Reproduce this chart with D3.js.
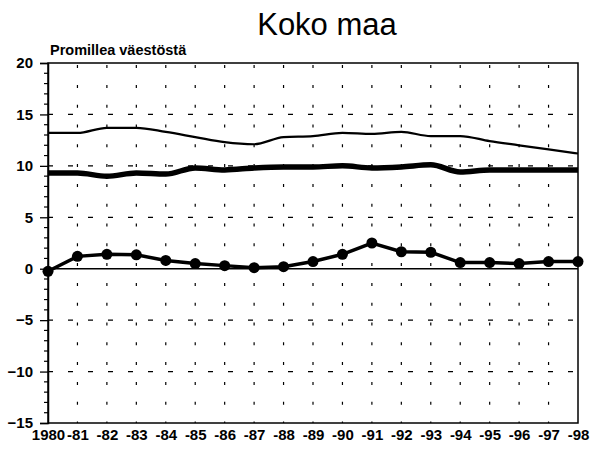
<!DOCTYPE html>
<html><head><meta charset="utf-8">
<script src="https://cdn.jsdelivr.net/npm/d3@7"></script>
<style>body{margin:0;background:#fff}svg{display:block}</style>
</head><body>
<svg id="c" width="592" height="450"></svg>
<script>
const years = d3.range(1980, 1999);
const xLabels = ["1980","-81","-82","-83","-84","-85","-86","-87","-88","-89","-90","-91","-92","-93","-94","-95","-96","-97","-98"];
const births = [13.2,13.2,13.7,13.7,13.3,12.8,12.3,12.1,12.8,12.9,13.2,13.1,13.3,12.9,12.9,12.4,12.0,11.6,11.2];
const deaths = [9.3,9.3,9.0,9.3,9.2,9.8,9.6,9.8,9.9,9.9,10.0,9.8,9.9,10.1,9.4,9.6,9.6,9.6,9.6];
const migration = [-0.25,1.2,1.4,1.35,0.8,0.5,0.3,0.1,0.2,0.7,1.4,2.5,1.65,1.6,0.6,0.6,0.5,0.7,0.7];
const yTicks = [-15,-10,-5,0,5,10,15,20];

const svg = d3.select("#c");
const L=48,R=578,T=63,B=423;
const x = d3.scaleLinear().domain([1980,1998]).range([L,R]);
const y = d3.scaleLinear().domain([-15,20]).range([B,T]);
const font = "'Liberation Sans', Arial, Helvetica, sans-serif";

// horizontal dashed grid
svg.append("g").selectAll("line").data([15,10,5,-5,-10]).join("line")
  .attr("x1",L).attr("x2",R).attr("y1",d=>y(d)).attr("y2",d=>y(d))
  .attr("stroke","#000").attr("stroke-width",1.2).attr("stroke-dasharray","5,15").attr("stroke-dashoffset",-20);
// vertical dotted grid
svg.append("g").selectAll("line").data(years.slice(1,-1)).join("line")
  .attr("x1",d=>x(d)).attr("x2",d=>x(d)).attr("y1",B).attr("y2",T)
  .attr("stroke","#000").attr("stroke-width",1.2).attr("stroke-dasharray","3,16.8").attr("stroke-dashoffset",1.5);
// zero line
svg.append("line").attr("x1",L).attr("x2",R).attr("y1",y(0)).attr("y2",y(0))
  .attr("stroke","#000").attr("stroke-width",1.5);
// frame
svg.append("rect").attr("x",L).attr("y",T).attr("width",R-L).attr("height",B-T)
  .attr("fill","none").attr("stroke","#000").attr("stroke-width",1.5);

// y axis
const yAxis = d3.axisLeft(y).tickValues(yTicks).tickSize(8).tickPadding(7).tickFormat(d3.format("d"));
const gy = svg.append("g").attr("transform",`translate(${L},0)`).call(yAxis);
gy.select(".domain").attr("stroke-width",1.5);
gy.selectAll(".tick line").attr("stroke-width",1.3);
gy.selectAll("text").attr("font-family",font).attr("font-size",15).attr("font-weight","bold").attr("fill","#000");
const minor = d3.range(-15,21).filter(v=>v%5!==0);
svg.append("g").selectAll("line").data(minor).join("line")
  .attr("x1",L-4).attr("x2",L).attr("y1",d=>y(d)).attr("y2",d=>y(d))
  .attr("stroke","#000").attr("stroke-width",1.2);

// x axis labels
const xAxis = d3.axisBottom(x).tickValues(years).tickSize(0).tickPadding(6).tickFormat((d,i)=>xLabels[i]);
const gx = svg.append("g").attr("transform",`translate(0,${B})`).call(xAxis);
gx.select(".domain").remove();
gx.selectAll("text").attr("font-family",font).attr("font-size",15).attr("font-weight","bold").attr("fill","#000");

// lines
const line = d3.line().x((d,i)=>x(years[i])).y(d=>y(d)).curve(d3.curveMonotoneX);
svg.append("path").datum(births).attr("d",line).attr("fill","none").attr("stroke","#000").attr("stroke-width",2.2);
svg.append("path").datum(deaths).attr("d",line).attr("fill","none").attr("stroke","#000").attr("stroke-width",5.5);
const line2 = d3.line().x((d,i)=>x(years[i])).y(d=>y(d));
svg.append("path").datum(migration).attr("d",line2).attr("fill","none").attr("stroke","#000").attr("stroke-width",3.5);
svg.append("g").selectAll("circle").data(migration).join("circle")
  .attr("cx",(d,i)=>x(years[i])).attr("cy",d=>y(d)).attr("r",5.5).attr("fill","#000");

// titles
svg.append("text").attr("x",327).attr("y",35).attr("text-anchor","middle")
  .attr("font-family",font).attr("font-size",31).text("Koko maa");
svg.append("text").attr("x",50).attr("y",55)
  .attr("font-family",font).attr("font-size",14.5).attr("font-weight","bold").text("Promillea väestöstä");
</script>
</body></html>
